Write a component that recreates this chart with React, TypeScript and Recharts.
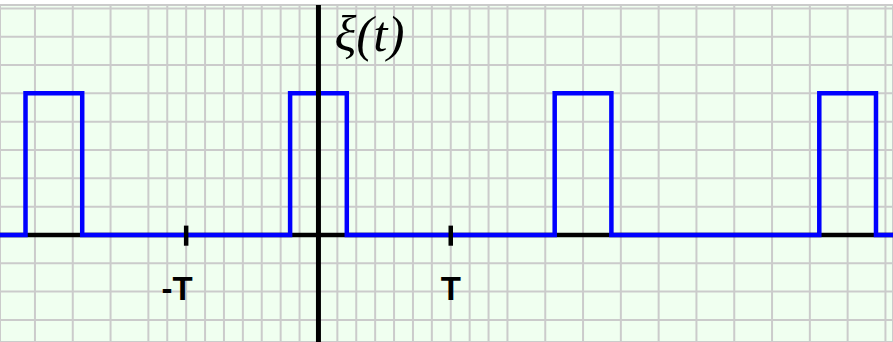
import React from 'react';
import { LineChart, Line, XAxis, YAxis, CartesianGrid, ReferenceDot } from 'recharts';

// Axis units: one grid cell per unit on both axes.
const xDomain: [number, number] = [-16.85, 30.4];
const yDomain: [number, number] = [-3.78, 8.12];

// Rectangular pulse train xi(t)
const pulseStarts = [-15.5, -1.5, 12.5, 26.5];
const pulseEnds = [-12.5, 1.5, 15.5, 29.5];
const pulseHeight = 5;

// Period marks on the time axis
const periodMarks = [-7, 7];
const periodLabels = ['-T', 'T'];
const periodLabelShift = [-9, 0];

const signalLabel = 'ξ(t)';
const signalLabelPos = { t: 0.85, v: 6.5 };

const range = (a: number, b: number) => {
  const out: number[] = [];
  for (let i = a; i <= b; i++) out.push(i);
  return out;
};
const gridX = range(-16, 30);
const gridY = range(-3, 8);

const signal: { t: number; v: number }[] = [{ t: xDomain[0], v: 0 }];
pulseStarts.forEach((s, i) => {
  const e = pulseEnds[i];
  signal.push({ t: s, v: 0 }, { t: s, v: pulseHeight }, { t: e, v: pulseHeight }, { t: e, v: 0 });
});
signal.push({ t: xDomain[1], v: 0 });

const timeAxis = [
  { t: xDomain[0], v: 0 },
  { t: xDomain[1], v: 0 },
];
const valueAxis = [
  { t: 0, v: yDomain[0] },
  { t: 0, v: yDomain[1] },
];
const markSegments = periodMarks.map((m) => [
  { t: m, v: 0.33 },
  { t: m, v: -0.38 },
]);

export default function App() {
  return (
    <div style={{ position: 'absolute', left: 0, top: 0, background: '#ffffff' }}>
      <LineChart width={893} height={342} margin={{ top: 5, right: 0, bottom: 0, left: 0 }}>
        <XAxis dataKey="t" type="number" domain={xDomain} ticks={gridX} allowDataOverflow hide />
        <YAxis dataKey="v" type="number" domain={yDomain} ticks={gridY} allowDataOverflow hide />
        <CartesianGrid stroke="#cbcbcb" strokeWidth={2} fill="#f0fff0" fillOpacity={1} />
        <Line
          data={timeAxis}
          dataKey="v"
          stroke="#000000"
          strokeWidth={4.5}
          dot={false}
          isAnimationActive={false}
        />
        <Line
          data={signal}
          dataKey="v"
          stroke="#0000ff"
          strokeWidth={4.5}
          strokeLinejoin="miter"
          dot={false}
          isAnimationActive={false}
        />
        <Line
          data={valueAxis}
          dataKey="v"
          stroke="#000000"
          strokeWidth={5}
          dot={false}
          isAnimationActive={false}
        />
        {markSegments.map((seg, i) => (
          <Line
            key={`mark-${i}`}
            data={seg}
            dataKey="v"
            stroke="#000000"
            strokeWidth={4.5}
            dot={false}
            isAnimationActive={false}
          />
        ))}
        {periodMarks.map((m, i) => (
          <ReferenceDot
            key={`label-${i}`}
            x={m}
            y={-2.3}
            r={1}
            shape={(p: any) => (
              <text
                x={p.cx + periodLabelShift[i]}
                y={p.cy}
                textAnchor="middle"
                fontFamily="'Liberation Sans', Arial, sans-serif"
                fontWeight="bold"
                fontSize={33}
                fill="#000000"
              >
                {periodLabels[i]}
              </text>
            )}
          />
        ))}
        <ReferenceDot
          x={signalLabelPos.t}
          y={signalLabelPos.v}
          r={1}
          shape={(p: any) => (
            <text
              x={p.cx}
              y={p.cy}
              textAnchor="start"
              fontFamily="'Liberation Serif', 'Times New Roman', serif"
              fontStyle="italic"
              fontSize={51}
              fill="#000000"
            >
              {signalLabel}
            </text>
          )}
        />
      </LineChart>
    </div>
  );
}
